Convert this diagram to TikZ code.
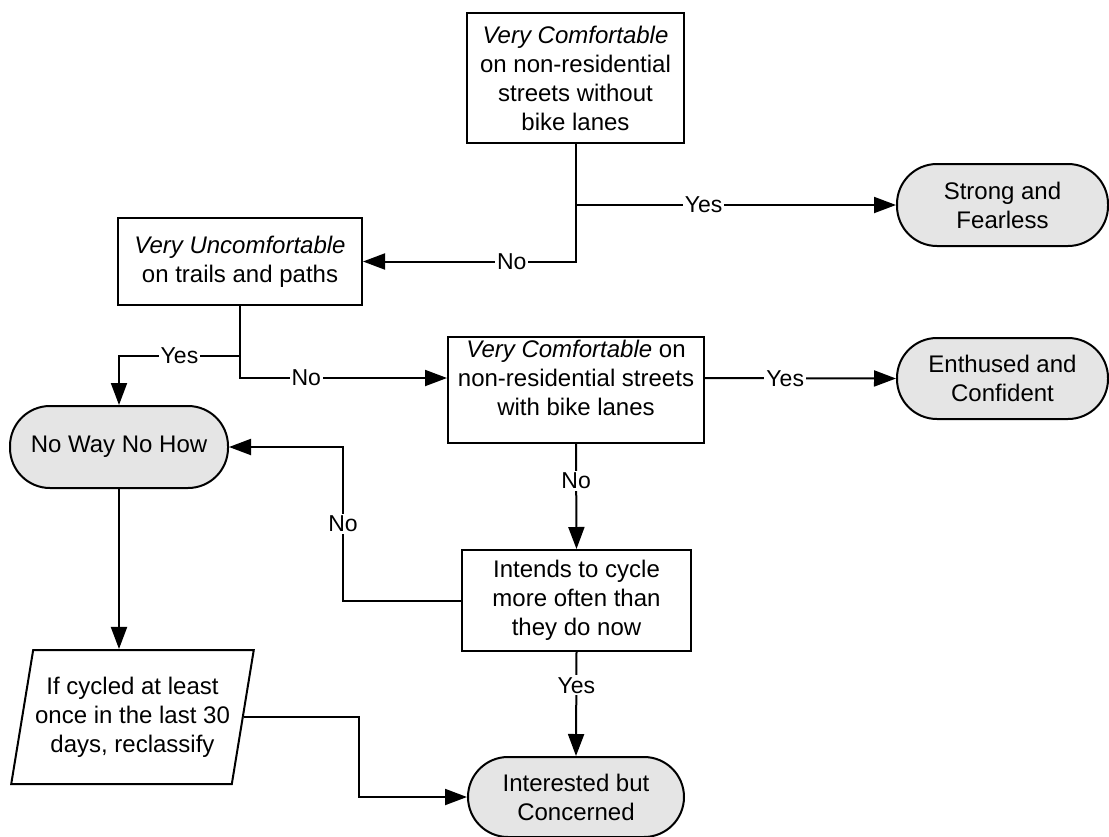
\documentclass[tikz,border=0pt]{standalone}
\usepackage{fontspec}
\setmainfont{Liberation Sans}
\usetikzlibrary{arrows.meta,shapes.geometric}

\begin{document}
\begin{tikzpicture}[x=1pt, y=-1pt,
    every node/.style={font=\fontsize{24}{29}\selectfont},
    question/.style={draw, line width=2pt, align=center, inner sep=0pt},
    terminal/.style={draw, line width=2pt, fill=gray!20, rounded corners=40pt, align=center, inner sep=0pt},
    flow/.style={line width=2pt, -{Triangle[length=22pt, width=16pt]}},
    answer/.style={fill=white, inner sep=2pt, font=\fontsize{23}{27}\selectfont}]

    % Canvas
    \useasboundingbox (0,0) rectangle (1109,836);

    % First question
    \node[question, minimum width=217pt, minimum height=130pt] (comfnobl) at (575.5,78)
        {\textit{Very Comfortable}\\on non-residential\\streets without\\bike lanes};
    \node[terminal, minimum width=211pt, minimum height=82pt] (strong) at (1002.5,205)
        {Strong and\\Fearless};

    % Second question
    \node[question, minimum width=244pt, minimum height=87pt] (uncomf) at (240,261.5)
        {\textit{Very Uncomfortable}\\on trails and paths};
    \node[terminal, minimum width=218pt, minimum height=82pt] (noway) at (119,447)
        {No Way No How};

    % Third question (text sits high in the box)
    \node[question, minimum width=256pt, minimum height=106pt] (comfbl) at (576,390) {};
    \node[align=center, inner sep=0pt] (comfbltext) at (576,378)
        {\textit{Very Comfortable} on\\non-residential streets\\with bike lanes};
    \node[terminal, minimum width=211pt, minimum height=81pt] (enthused) at (1002.5,378.5)
        {Enthused and\\Confident};

    % Fourth question
    \node[question, minimum width=229pt, minimum height=101pt] (intends) at (576.5,600.5)
        {Intends to cycle\\more often than\\they do now};
    \node[terminal, minimum width=216pt, minimum height=80pt] (interested) at (576,797)
        {Interested but\\Concerned};

    % Reclassify step
    \node[trapezium, draw, line width=2pt, trapezium left angle=75, trapezium right angle=105,
          trapezium stretches=true, minimum width=243pt, minimum height=134pt,
          align=center, inner sep=0pt] (reclass) at (132.5,717)
        {If cycled at least\\once in the last 30\\days, reclassify};

    % Connectors
    \draw[flow] (comfnobl.south) |- node[answer, pos=0.65] {No} (uncomf.east);
    \draw[flow] (comfnobl.south |- strong.west) -- node[answer, pos=0.4] {Yes} (strong.west);
    \draw[flow] (uncomf.south) -- ++(0,50) -| node[answer, pos=0.25] {Yes} (noway.north);
    \draw[flow] (uncomf.south) |- node[answer, pos=0.66] {No} (comfbl.west |- comfbltext.center);
    \draw[flow] (comfbl.east |- comfbltext.center) -- node[answer, pos=0.42] {Yes} (enthused.west);
    \draw[flow] (comfbl.south) -- node[answer, pos=0.35] {No} (intends.north);
    \draw[flow] (intends.west) -- ++(-118,0) |- node[answer, pos=0.25] {No} (noway.east);
    \draw[flow] (intends.south) -- node[answer, pos=0.32] {Yes} (interested.north);
    \draw[flow] (noway.south) -- (noway.south |- reclass.north);
    \draw[flow] (reclass.east) -- ++(115,0) |- (interested.west);

\end{tikzpicture}
\end{document}
